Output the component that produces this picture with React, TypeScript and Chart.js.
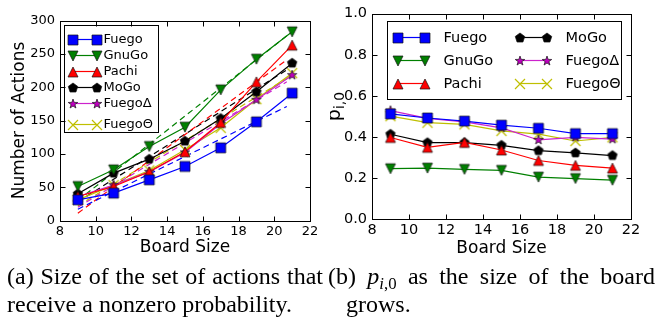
import React, { useEffect, useRef } from 'react';
import { Chart, registerables } from 'chart.js';

Chart.register(...registerables);

const FONT = '"DejaVu Sans", sans-serif';

// ---------- data ----------
const boardSizes = [9, 11, 13, 15, 17, 19, 21];
const seriesNames = ['Fuego', 'GnuGo', 'Pachi', 'MoGo', 'FuegoΔ', 'FuegoΘ'];

const actionsFuego = [31, 41, 61, 81, 109, 148, 191];
const actionsGnuGo = [51, 76, 111, 140, 196, 242, 283];
const actionsPachi = [36, 51, 73, 103, 147, 208, 263];
const actionsMoGo = [40, 71, 92, 119, 153, 193, 236];
const actionsFuegoDelta = [36, 53, 73, 102, 145, 181, 218];
const actionsFuegoTheta = [31, 53, 75, 106, 139, 182, 221];

const fitRange = [9, 20.7];
const fitFuego = [17, 171];
const fitGnuGo = [30, 277];
const fitPachi = [11, 241];
const fitMoGo = [28, 226];
const fitFuegoDelta = [20, 208];
const fitFuegoTheta = [22, 213];

const p0Fuego = [0.512, 0.492, 0.477, 0.457, 0.442, 0.416, 0.416];
const p0GnuGo = [0.245, 0.248, 0.242, 0.237, 0.204, 0.197, 0.189];
const p0Pachi = [0.397, 0.349, 0.373, 0.336, 0.285, 0.261, 0.248];
const p0MoGo = [0.413, 0.372, 0.372, 0.359, 0.333, 0.322, 0.309];
const p0FuegoDelta = [0.528, 0.49, 0.473, 0.444, 0.385, 0.398, 0.389];
const p0FuegoTheta = [0.501, 0.469, 0.461, 0.429, 0.413, 0.38, 0.398];

const xTickValues = [8, 10, 12, 14, 16, 18, 20, 22];
const actionTickValues = [0, 50, 100, 150, 200, 250, 300];
const probTickValues = [0, 0.2, 0.4, 0.6, 0.8, 1.0];

// ---------- styles ----------
const seriesColors = ['#0000ff', '#008000', '#ff0000', '#000000', '#cc22cc', '#bfbf00'];
const markerFills = ['#0000ff', '#008000', '#ff0000', '#000000', '#bf00bf', '#bfbf00'];
const seriesMarkers = ['square', 'triDown', 'triUp', 'pentagon', 'star', 'x'];

function makeMarker(kind: string, size: number, fill: string, edge: string): HTMLCanvasElement {
  const pad = 2;
  const s = Math.ceil(size + pad * 2);
  const c = document.createElement('canvas');
  c.width = s;
  c.height = s;
  const g = c.getContext('2d')!;
  const cx = s / 2;
  const cy = s / 2;
  const r = size / 2;
  g.beginPath();
  if (kind === 'square') {
    g.rect(cx - r, cy - r, size, size);
  } else if (kind === 'triUp') {
    g.moveTo(cx, cy - r);
    g.lineTo(cx + r, cy + r);
    g.lineTo(cx - r, cy + r);
    g.closePath();
  } else if (kind === 'triDown') {
    g.moveTo(cx, cy + r);
    g.lineTo(cx + r, cy - r);
    g.lineTo(cx - r, cy - r);
    g.closePath();
  } else if (kind === 'pentagon') {
    for (let i = 0; i < 5; i++) {
      const a = -Math.PI / 2 + (i * 2 * Math.PI) / 5;
      const px = cx + r * Math.cos(a);
      const py = cy + r * Math.sin(a);
      if (i === 0) g.moveTo(px, py);
      else g.lineTo(px, py);
    }
    g.closePath();
  } else if (kind === 'star') {
    for (let i = 0; i < 10; i++) {
      const a = -Math.PI / 2 + (i * Math.PI) / 5;
      const rr = i % 2 === 0 ? r : r * 0.4;
      const px = cx + rr * Math.cos(a);
      const py = cy + rr * Math.sin(a);
      if (i === 0) g.moveTo(px, py);
      else g.lineTo(px, py);
    }
    g.closePath();
  } else if (kind === 'x') {
    g.moveTo(cx - r, cy - r);
    g.lineTo(cx + r, cy + r);
    g.moveTo(cx + r, cy - r);
    g.lineTo(cx - r, cy + r);
  }
  if (kind === 'x') {
    g.strokeStyle = fill;
    g.lineWidth = 1.2;
    g.stroke();
  } else {
    g.fillStyle = fill;
    g.fill();
    g.strokeStyle = edge;
    g.lineWidth = 0.7;
    g.stroke();
  }
  return c;
}

// ---------- plugins ----------
const framePlugin = {
  id: 'frameTicks',
  afterDraw(chart: any, _args: any, opts: any) {
    const { ctx, chartArea, scales } = chart;
    const L = Math.round(chartArea.left) + 0.5;
    const R = Math.round(chartArea.right) + 0.5;
    const T = Math.round(chartArea.top) + 0.5;
    const B = Math.round(chartArea.bottom) + 0.5;
    const len = opts.len || 5;
    ctx.save();
    ctx.strokeStyle = '#000';
    ctx.lineWidth = 1;
    ctx.beginPath();
    scales.x.ticks.forEach((t: any) => {
      const px = Math.round(scales.x.getPixelForValue(t.value)) + 0.5;
      ctx.moveTo(px, B);
      ctx.lineTo(px, B - len);
      ctx.moveTo(px, T);
      ctx.lineTo(px, T + len);
    });
    scales.y.ticks.forEach((t: any) => {
      const py = Math.round(scales.y.getPixelForValue(t.value)) + 0.5;
      ctx.moveTo(L, py);
      ctx.lineTo(L + len, py);
      ctx.moveTo(R, py);
      ctx.lineTo(R - len, py);
    });
    ctx.stroke();
    ctx.strokeRect(L, T, R - L, B - T);
    ctx.restore();
  },
};

const boxLegendPlugin = {
  id: 'boxLegend',
  afterDatasetsDraw(chart: any, _args: any, o: any) {
    if (!o || !o.display) return;
    const { ctx, chartArea } = chart;
    const bx = Math.round(chartArea.left + o.dx) + 0.5;
    const by = Math.round(chartArea.top + o.dy) + 0.5;
    ctx.save();
    ctx.fillStyle = '#fff';
    ctx.fillRect(bx, by, o.w, o.h);
    ctx.strokeStyle = '#000';
    ctx.lineWidth = 1;
    ctx.strokeRect(bx, by, o.w, o.h);
    const items = chart.data.datasets.filter((d: any) => d.legendItem);
    ctx.font = `${o.fontSize}px ${FONT}`;
    ctx.textBaseline = 'middle';
    ctx.textAlign = 'left';
    items.forEach((d: any, i: number) => {
      const col = Math.floor(i / o.rows);
      const row = i % o.rows;
      let cy = by + o.rowStart + row * o.rowGap;
      if (i === items.length - 1) cy += o.lastExtra;
      cy = Math.round(cy);
      const x1 = bx + col * o.colW + o.m1;
      const x2 = bx + col * o.colW + o.m2;
      ctx.strokeStyle = d.borderColor;
      ctx.lineWidth = d.borderWidth;
      ctx.beginPath();
      ctx.moveTo(x1, cy + 0.5);
      ctx.lineTo(x2, cy + 0.5);
      ctx.stroke();
      const img = d.pointStyle as HTMLCanvasElement;
      ctx.drawImage(img, Math.round(x1 - img.width / 2), Math.round(cy + 0.5 - img.height / 2));
      ctx.drawImage(img, Math.round(x2 - img.width / 2), Math.round(cy + 0.5 - img.height / 2));
      ctx.fillStyle = '#000';
      ctx.fillText(d.label, bx + col * o.colW + o.tx, cy + 1);
    });
    ctx.restore();
  },
};

const subTitlePlugin = {
  id: 'subTitle',
  afterDraw(chart: any, _args: any, o: any) {
    if (!o || !o.display) return;
    const { ctx } = chart;
    ctx.save();
    ctx.translate(o.x, o.y);
    ctx.rotate(-Math.PI / 2);
    ctx.fillStyle = '#000';
    ctx.textBaseline = 'alphabetic';
    ctx.textAlign = 'left';
    ctx.font = `${o.mainSize}px ${FONT}`;
    const mw = ctx.measureText(o.main).width;
    ctx.font = `${o.subSize}px ${FONT}`;
    const sw = ctx.measureText(o.sub).width;
    const start = -(mw + sw) / 2;
    ctx.font = `${o.mainSize}px ${FONT}`;
    ctx.fillText(o.main, start, 0);
    ctx.font = `${o.subSize}px ${FONT}`;
    ctx.fillText(o.sub, start + mw, o.subShift);
    ctx.restore();
  },
};

function makeDatasets(valueSets: number[][], fits: number[][] | null, markerSize: number) {
  const main = valueSets.map((vals, k) => ({
    label: seriesNames[k],
    legendItem: true,
    data: boardSizes.map((x, i) => ({ x, y: vals[i] })),
    borderColor: seriesColors[k],
    backgroundColor: seriesColors[k],
    borderWidth: 1.2,
    pointStyle: makeMarker(seriesMarkers[k], markerSize, markerFills[k], '#111'),
    pointRadius: 4,
    tension: 0,
  }));
  const fitSets = (fits || []).map((f, k) => ({
    label: seriesNames[k] + ' fit',
    legendItem: false,
    data: fitRange.map((x, i) => ({ x, y: f[i] })),
    borderColor: seriesColors[k],
    borderWidth: 1.2,
    borderDash: [6, 4],
    pointRadius: 0,
    tension: 0,
  }));
  return [...main, ...fitSets];
}

function xScale(tickSize: number, titleSize: number, titlePadBottom: number) {
  return {
    type: 'linear',
    min: 8,
    max: 22,
    afterBuildTicks: (s: any) => {
      s.ticks = xTickValues.map((v) => ({ value: v }));
    },
    afterFit: (s: any) => {
      s.height = 40;
    },
    ticks: { font: { family: FONT, size: tickSize }, color: '#000', padding: 3, maxRotation: 0 },
    grid: { display: false, drawTicks: false },
    border: { display: false },
    title: {
      display: true,
      text: 'Board Size',
      color: '#000',
      font: { family: FONT, size: titleSize },
      padding: { top: 0, bottom: titlePadBottom },
    },
  };
}

export default function App() {
  const leftRef = useRef<HTMLCanvasElement>(null);
  const rightRef = useRef<HTMLCanvasElement>(null);

  useEffect(() => {
    const charts: Chart[] = [];
    if (leftRef.current) {
      charts.push(
        new Chart(leftRef.current, {
          type: 'line',
          data: {
            datasets: makeDatasets(
              [actionsFuego, actionsGnuGo, actionsPachi, actionsMoGo, actionsFuegoDelta, actionsFuegoTheta],
              [fitFuego, fitGnuGo, fitPachi, fitMoGo, fitFuegoDelta, fitFuegoTheta],
              10
            ) as any,
          },
          options: {
            responsive: false,
            animation: false,
            events: [],
            layout: { padding: { left: 0, top: 20.5, right: 15, bottom: 4.5 } },
            plugins: {
              legend: { display: false },
              tooltip: { enabled: false },
              boxLegend: {
                display: true,
                dx: 4,
                dy: 4.3,
                w: 94,
                h: 107,
                rows: 6,
                colW: 0,
                rowStart: 13,
                rowGap: 16.2,
                lastExtra: 4.5,
                m1: 8.5,
                m2: 32,
                tx: 39,
                fontSize: 13,
              },
              frameTicks: { len: 5 },
            } as any,
            scales: {
              x: xScale(13, 17, 2.3) as any,
              y: {
                type: 'linear',
                min: 0,
                max: 300,
                afterBuildTicks: (s: any) => {
                  s.ticks = actionTickValues.map((v) => ({ value: v }));
                },
                afterFit: (s: any) => {
                  s.width = 60;
                },
                ticks: { font: { family: FONT, size: 13 }, color: '#000', padding: 5 },
                grid: { display: false, drawTicks: false },
                border: { display: false },
                title: {
                  display: true,
                  text: 'Number of Actions',
                  color: '#000',
                  font: { family: FONT, size: 17 },
                  padding: { top: 9, bottom: 0 },
                },
              } as any,
            },
          },
          plugins: [framePlugin, boxLegendPlugin] as any,
        })
      );
    }
    if (rightRef.current) {
      charts.push(
        new Chart(rightRef.current, {
          type: 'line',
          data: {
            datasets: makeDatasets(
              [p0Fuego, p0GnuGo, p0Pachi, p0MoGo, p0FuegoDelta, p0FuegoTheta],
              null,
              10
            ) as any,
          },
          options: {
            responsive: false,
            animation: false,
            events: [],
            layout: { padding: { left: 0, top: 11, right: 15, bottom: 6 } },
            plugins: {
              legend: { display: false },
              tooltip: { enabled: false },
              boxLegend: {
                display: true,
                dx: 15,
                dy: 7,
                w: 234,
                h: 78,
                rows: 3,
                colW: 122,
                rowStart: 15,
                rowGap: 23,
                lastExtra: 0,
                m1: 10,
                m2: 37,
                tx: 56,
                fontSize: 14.5,
              },
              frameTicks: { len: 5 },
              subTitle: {
                display: true,
                x: 10,
                y: 106.5,
                main: 'p',
                sub: 'i,0',
                mainSize: 19,
                subSize: 14,
                subShift: 4,
              },
            } as any,
            scales: {
              x: xScale(14.5, 17, 0) as any,
              y: {
                type: 'linear',
                min: 0,
                max: 1,
                afterBuildTicks: (s: any) => {
                  s.ticks = probTickValues.map((v) => ({ value: v }));
                },
                afterFit: (s: any) => {
                  s.width = 42;
                },
                ticks: {
                  font: { family: FONT, size: 14.5 },
                  color: '#000',
                  padding: 5,
                  callback: (v: any) => Number(v).toFixed(1),
                },
                grid: { display: false, drawTicks: false },
                border: { display: false },
                title: { display: false },
              } as any,
            },
          },
          plugins: [framePlugin, boxLegendPlugin, subTitlePlugin] as any,
        })
      );
    }
    return () => charts.forEach((c) => c.destroy());
  }, []);

  const caption = (left: number, width: number, indent: number): React.CSSProperties => ({
    position: 'absolute',
    left,
    top: 261.5,
    width,
    fontFamily: '"Liberation Serif", "Times New Roman", serif',
    fontSize: 24,
    lineHeight: '28.8px',
    textAlign: 'justify',
    textIndent: indent,
    color: '#000',
    margin: 0,
  });

  return (
    <div
      style={{
        position: 'absolute',
        left: 0,
        top: 0,
        width: 661,
        height: 323,
        background: '#fff',
        overflow: 'hidden',
      }}
    >
      <canvas ref={leftRef} width={325} height={265} style={{ position: 'absolute', left: 0, top: 0 }} />
      <canvas ref={rightRef} width={316} height={265} style={{ position: 'absolute', left: 330, top: 0 }} />
      <div style={caption(7, 316, 0)}>(a) Size of the set of actions that receive a nonzero probability.</div>
      <div style={caption(346, 309, -18)}>
        (b) <i>p</i>
        <sub style={{ fontSize: '70%', verticalAlign: '-0.3em', lineHeight: 0 }}>
          <i>i</i>,0
        </sub>{' '}
        as the size of the board grows.
      </div>
    </div>
  );
}
